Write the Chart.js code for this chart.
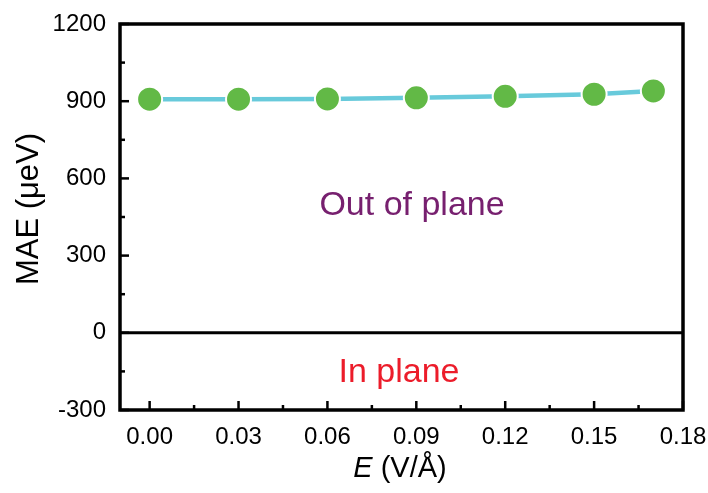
<!DOCTYPE html>
<html lang="en">
<head>
  <meta charset="UTF-8">
  <title>MAE vs E</title>
  <script src="https://cdn.jsdelivr.net/npm/chart.js"></script>
  <style>
    html, body { margin: 0; padding: 0; background: #fff; }
    #wrap { width: 708px; height: 493px; }
  </style>
</head>
<body>
  <div id="wrap"><canvas id="myChart" width="708" height="493"></canvas></div>
  <script>
    // field strength (V/Å) and MAE (μeV)
    const fieldE = [0.00, 0.03, 0.06, 0.09, 0.12, 0.15, 0.17];
    const maeValues = [908, 908, 909, 913, 919, 927, 940];
    const xTicks = [0.00, 0.03, 0.06, 0.09, 0.12, 0.15, 0.18];
    const yTicks = [-300, 0, 300, 600, 900, 1200];

    const FONT = '"Liberation Sans", Arial, sans-serif';

    const framePlugin = {
      id: 'frame',
      afterDraw(chart) {
        const ctx = chart.ctx;
        const a = chart.chartArea;
        const xs = chart.scales.x;
        const ys = chart.scales.y;
        ctx.save();
        ctx.strokeStyle = '#000';

        // zero line
        ctx.lineWidth = 3;
        const y0 = ys.getPixelForValue(0);
        ctx.beginPath();
        ctx.moveTo(a.left, y0);
        ctx.lineTo(a.right, y0);
        ctx.stroke();

        // inward ticks
        ctx.lineWidth = 2.5;
        const xStep = xTicks[1] - xTicks[0];
        xTicks.forEach((v, i) => {
          const px = xs.getPixelForValue(v);
          ctx.beginPath();
          ctx.moveTo(px, a.bottom);
          ctx.lineTo(px, a.bottom - 9);
          ctx.stroke();
          if (i < xTicks.length - 1) {
            const pm = xs.getPixelForValue(v + xStep / 2);
            ctx.beginPath();
            ctx.moveTo(pm, a.bottom);
            ctx.lineTo(pm, a.bottom - 5);
            ctx.stroke();
          }
        });
        const yStep = yTicks[1] - yTicks[0];
        yTicks.forEach((v, i) => {
          const py = ys.getPixelForValue(v);
          ctx.beginPath();
          ctx.moveTo(a.left, py);
          ctx.lineTo(a.left + 9, py);
          ctx.stroke();
          if (i < yTicks.length - 1) {
            const pm = ys.getPixelForValue(v + yStep / 2);
            ctx.beginPath();
            ctx.moveTo(a.left, pm);
            ctx.lineTo(a.left + 5, pm);
            ctx.stroke();
          }
        });

        // frame
        ctx.lineWidth = 3.5;
        ctx.strokeRect(a.left, a.top, a.right - a.left, a.bottom - a.top);

        // region labels
        ctx.textAlign = 'center';
        ctx.textBaseline = 'alphabetic';
        ctx.font = '34px ' + FONT;
        ctx.fillStyle = '#77206f';
        ctx.fillText('Out of plane', 412, 215);
        ctx.fillStyle = '#ec1c2a';
        ctx.fillText('In plane', 399, 382);

        // y axis title
        ctx.fillStyle = '#000';
        ctx.font = '31px ' + FONT;
        ctx.save();
        ctx.translate(38, 209);
        ctx.rotate(-Math.PI / 2);
        ctx.fillText('MAE (\u03BCeV)', 0, 0);
        ctx.restore();

        // x axis title, italic E
        const part1 = 'E';
        const part2 = ' (V/\u00C5)';
        ctx.font = 'italic 29px ' + FONT;
        const w1 = ctx.measureText(part1).width;
        ctx.font = '29px ' + FONT;
        const w2 = ctx.measureText(part2).width;
        const startX = 400 - (w1 + w2) / 2;
        ctx.textAlign = 'left';
        ctx.font = 'italic 29px ' + FONT;
        ctx.fillText(part1, startX, 477);
        ctx.font = '29px ' + FONT;
        ctx.fillText(part2, startX + w1, 477);
        ctx.restore();
      }
    };

    const ctx = document.getElementById('myChart').getContext('2d');
    const myChart = new Chart(ctx, {
      type: 'line',
      data: {
        datasets: [{
          data: fieldE.map((e, i) => ({ x: e, y: maeValues[i] })),
          borderColor: '#68cadb',
          borderWidth: 4.5,
          pointBackgroundColor: '#62b946',
          pointBorderColor: '#ffffff',
          pointBorderWidth: 2,
          pointRadius: 12.5,
          tension: 0,
          fill: false
        }]
      },
      options: {
        responsive: false,
        animation: false,
        events: [],
        layout: { padding: { top: 24, right: 25, left: 0, bottom: 0 } },
        plugins: {
          legend: { display: false },
          tooltip: { enabled: false }
        },
        scales: {
          x: {
            type: 'linear',
            min: -0.01,
            max: 0.18,
            afterBuildTicks(scale) {
              scale.ticks = xTicks.map(v => ({ value: v }));
            },
            afterFit(scale) {
              scale.height = 83;
              scale.paddingLeft = 0;
              scale.paddingRight = 0;
            },
            grid: { display: false, drawTicks: false },
            border: { display: false },
            ticks: {
              padding: 13,
              color: '#000',
              font: { family: FONT, size: 24 },
              maxRotation: 0,
              callback: v => v.toFixed(2)
            }
          },
          y: {
            min: -300,
            max: 1200,
            afterBuildTicks(scale) {
              scale.ticks = yTicks.map(v => ({ value: v }));
            },
            afterFit(scale) {
              scale.width = 120;
              scale.paddingTop = 0;
              scale.paddingBottom = 0;
            },
            grid: { display: false, drawTicks: false },
            border: { display: false },
            ticks: {
              padding: 14,
              color: '#000',
              font: { family: FONT, size: 24 },
              callback: v => String(v)
            }
          }
        }
      },
      plugins: [framePlugin]
    });
  </script>
</body>
</html>
